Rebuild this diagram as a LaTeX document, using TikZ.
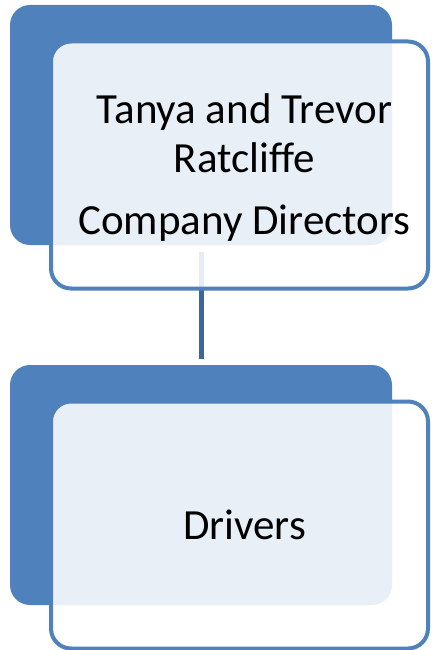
\documentclass[tikz,border=0pt]{standalone}
\usepackage{fontspec}
\setmainfont{Carlito}[Ligatures=CommonOff]
\definecolor{chartblue}{HTML}{4F81BD}
\definecolor{linkblue}{HTML}{3F6698}
\tikzset{
    backbox/.style={fill=chartblue,rounded corners=20pt,minimum width=382pt,minimum height=240pt,inner sep=0pt},
    frontbox/.style={draw=chartblue,line width=4pt,fill=white,fill opacity=0.88,rounded corners=20pt,
        minimum width=377pt,minimum height=247pt,inner sep=0pt},
    boxtext/.style={align=center,inner sep=0pt,font=\fontsize{43}{49}\selectfont},
}
\begin{document}
\begin{tikzpicture}[x=1pt,y=-1pt]
    \useasboundingbox (0,0) rectangle (431,650);
    \node[backbox] (bossback) at (201,125) {};
    \node[backbox] (staffback) at (201,485) {};
    \draw[linkblue,line width=5pt,shorten <=7pt,shorten >=6pt] (bossback.south) -- (staffback.north);
    \node[frontbox] (boss) at (239.5,165) {};
    \node[frontbox] (staff) at (239.5,525) {};
    \node[boxtext] (bosstext) at ([shift={(5,3)}]boss.center) {Tanya and Trevor\\Ratcliffe\\[13pt]Company Directors};
    \node[boxtext] (stafftext) at ([shift={(5,0)}]staff.center) {Drivers};
\end{tikzpicture}
\end{document}
